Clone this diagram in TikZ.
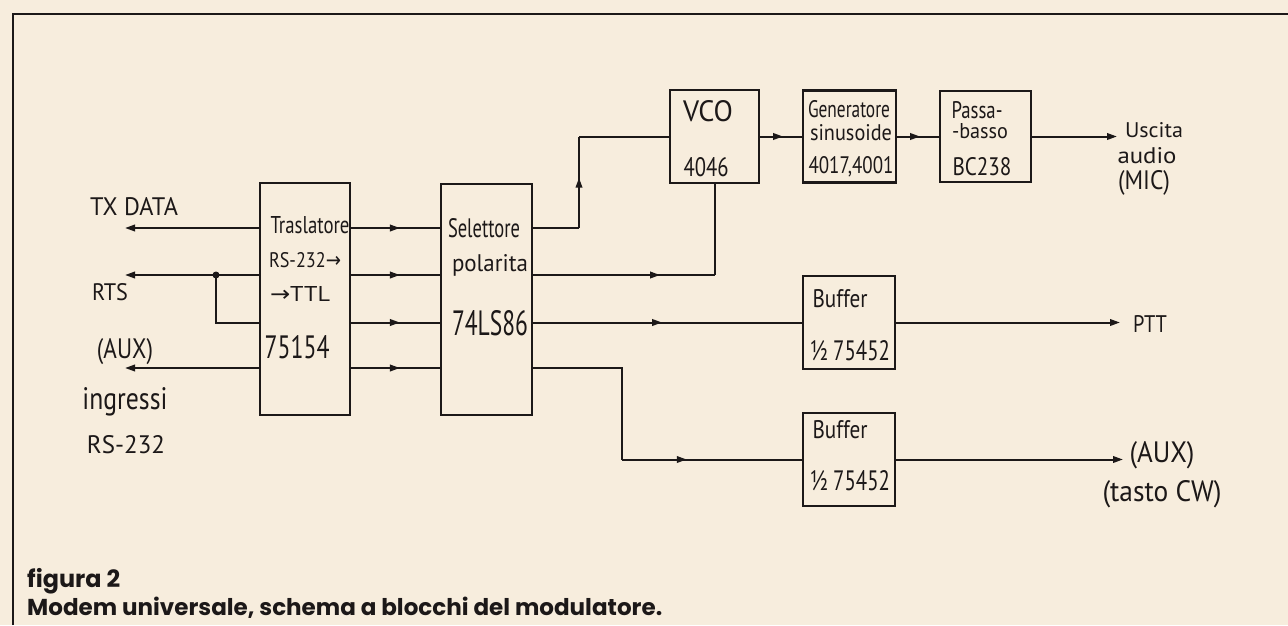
\documentclass[tikz,border=0pt]{standalone}
\usepackage{fontspec}
\setmainfont{PT Sans}
\newfontfamily\capfont{Poppins}
\newfontfamily\symfont{DejaVu Sans}
\usetikzlibrary{arrows.meta,decorations.markings}
\definecolor{paper}{RGB}{247,237,221}
\definecolor{ink}{RGB}{28,24,24}
\newcommand\fw[3]{\resizebox{#1pt}{#2pt}{#3}}
\newcommand\fwr[2]{\resizebox{#1pt}{!}{#2}}
\tikzset{
  blk/.style={draw=ink, line width=2.2pt, inner sep=0pt},
  wire/.style={draw=ink, line width=2pt},
  tipend/.style={-{Triangle[length=10pt,width=6.5pt]}},
  midarr/.style={postaction={decorate}, decoration={markings, mark=at position #1 with {\arrow{Triangle[length=10pt,width=6.5pt]}}}},
  hw/.style={text=ink, inner sep=0pt, anchor=base, font=\fontsize{20}{20}\selectfont},
  captxt/.style={text=ink, inner sep=0pt, anchor=base west, font=\capfont\bfseries\fontsize{20}{20}\selectfont},
}
\begin{document}
\begin{tikzpicture}[x=1pt,y=-1pt]
\fill[paper] (0,0) rectangle (1288,625);
\useasboundingbox (0,0) rectangle (1288,625);
% frame
\draw[ink, line width=2.2pt] (13,625) -- (13,14) -- (1288,14);

% blocks
\node[blk, minimum width=90pt, minimum height=232pt] (tr) at (305,299) {};
\node[blk, minimum width=91pt, minimum height=231pt] (sel) at (486.5,299.5) {};
\node[blk, minimum width=89pt, minimum height=93pt] (vco) at (714.5,136.5) {};
\node[blk, minimum width=93pt, minimum height=92pt] (gen) at (849.5,136.5) {};
\node[blk, minimum width=91pt, minimum height=91pt] (pas) at (985.5,136.5) {};
\node[blk, minimum width=92pt, minimum height=93pt] (buf1) at (849,322.5) {};
\node[blk, minimum width=92pt, minimum height=93pt] (buf2) at (849,459.5) {};

% texts in blocks
\node[hw] (t1) at (310,233) {\fw{79}{17}{Traslatore}};
\node[hw] (t2) at (305,267) {\fw{72}{15}{RS-232{\symfont→}}};
\node[hw] (t3) at (300,301) {\fw{60}{15}{{\symfont→}TTL}};
\node[hw] (t4) at (297,358) {\fw{65}{23}{75154}};
\node[hw] (s1) at (484,237) {\fw{72}{19}{Selettore}};
\node[hw] (s2) at (490,271) {\fw{76}{17}{polarita}};
\node[hw] (s3) at (490,335) {\fw{76}{25}{74LS86}};
\node[hw] (v1) at (708,121) {\fw{50}{21}{VCO}};
\node[hw] (v2) at (706,176) {\fw{45}{19}{4046}};
\node[hw] (g1) at (849,117) {\fw{82}{17}{Generatore}};
\node[hw] (g2) at (851,140) {\fw{82}{16}{sinusoide}};
\node[hw] (g3) at (851,173) {\fw{85}{17}{4017,4001}};
\node[hw] (p1) at (977,118) {\fw{51}{17}{Passa-}};
\node[hw] (p2) at (980,138) {\fw{56}{15}{-basso}};
\node[hw] (p3) at (982,175) {\fw{59}{18}{BC238}};
\node[hw] (b11) at (840,307) {\fw{55}{18}{Buffer}};
\node[hw] (b12) at (850,360) {\fw{80}{20}{½ 75452}};
\node[hw] (b21) at (840,438) {\fw{55}{18}{Buffer}};
\node[hw] (b22) at (850,490) {\fw{80}{20}{½ 75452}};

% outside labels
\node[hw] (ltx) at (134,215) {\fw{88}{18}{TX DATA}};
\node[hw] (lrts) at (110,300) {\fw{36}{17}{RTS}};
\node[hw] (laux) at (125,358) {\fw{56}{20}{(AUX)}};
\node[hw] (ling) at (125,409) {\fw{85}{22}{ingressi}};
\node[hw] (lrs) at (126,453) {\fw{78}{18}{RS-232}};
\node[hw] (lu1) at (1154,137) {\fw{58}{15}{Uscita}};
\node[hw] (lu2) at (1147,163) {\fw{59}{16}{audio}};
\node[hw] (lu3) at (1144,189) {\fw{52}{19}{(MIC)}};
\node[hw] (lptt) at (1150,332) {\fw{34}{17}{PTT}};
\node[hw] (laux2) at (1162,462) {\fw{65}{21}{(AUX)}};
\node[hw] (lcw) at (1162,501) {\fw{119}{21}{(tasto CW)}};

% caption
\node[captxt] (c1) at (27,587) {\fwr{93}{figura 2}};
\node[captxt] (c2) at (27,615) {\fwr{635}{Modem universale, schema a blocchi del modulatore.}};

% coordinates
\coordinate (txin) at (125,228);
\coordinate (rtsin) at (125,275);
\coordinate (auxin) at (125,368);
\coordinate (rtsj) at (216,275);
\coordinate (rtsb) at (216,322.5);
\coordinate (u1) at (579,228);
\coordinate (u3) at (622,368);
\coordinate (audout) at (1117,136.5);
\coordinate (pttout) at (1120,322.5);
\coordinate (cwout) at (1123,459.5);

% inputs
\draw[wire,tipend] (tr.west |- txin) -- (txin);
\draw[wire,tipend] (tr.west |- rtsin) -- (rtsin);
\draw[wire] (rtsj) -- (rtsb) -- (tr.west |- rtsb);
\fill[ink] (rtsj) circle (3.5pt);
\draw[wire,tipend] (tr.west |- auxin) -- (auxin);

% translator -> selector
\foreach \c in {txin,rtsin,rtsb,auxin}
  \draw[wire,midarr=0.55] (tr.east |- \c) -- (sel.west |- \c);

% selector -> VCO input
\draw[wire] (sel.east |- txin) -- (u1);
\draw[wire,midarr=0.55] (u1) -- (u1 |- vco.west);
\draw[wire] (u1 |- vco.west) -- (vco.west);
% selector -> VCO bottom
\draw[wire,midarr=0.7] (sel.east |- rtsin) -- (vco.south |- rtsin);
\draw[wire] (vco.south |- rtsin) -- (vco.south);
% selector -> buffers
\draw[wire,midarr=0.48] (sel.east |- rtsb) -- (buf1.west);
\draw[wire] (sel.east |- auxin) -- (u3) -- (u3 |- buf2.west);
\draw[wire,midarr=0.36] (u3 |- buf2.west) -- (buf2.west);

% chain
\draw[wire,midarr=0.55] (vco.east) -- (gen.west);
\draw[wire,midarr=0.55] (gen.east) -- (pas.west);
\draw[wire,tipend] (pas.east) -- (audout);
\draw[wire,tipend] (buf1.east) -- (pttout);
\draw[wire,tipend] (buf2.east) -- (cwout);
\end{tikzpicture}
\end{document}
